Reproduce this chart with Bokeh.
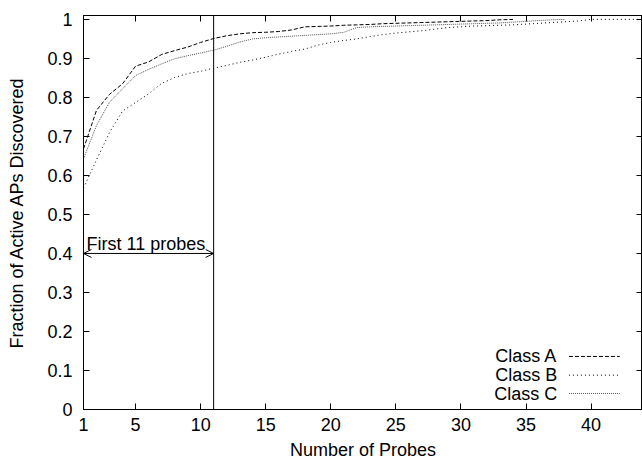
from bokeh.plotting import figure
from bokeh.models import (LinearAxis, FixedTicker, CustomJSTickFormatter, Span,
                          Arrow, OpenHead, Label, Range1d, CustomLabelingPolicy)
from bokeh.embed import file_html
from bokeh.resources import INLINE

# ---------------- data ----------------
probes_a = list(range(1, 35))
class_a = [0.668, 0.767, 0.808, 0.835, 0.880, 0.891, 0.910, 0.920, 0.929, 0.941,
           0.951, 0.958, 0.963, 0.966, 0.967, 0.969, 0.973, 0.981, 0.982, 0.983,
           0.985, 0.986, 0.987, 0.989, 0.990, 0.991, 0.992, 0.993, 0.994, 0.995,
           0.996, 0.997, 0.999, 1.000]

probes_b = list(range(1, 45))
class_b = [0.568, 0.640, 0.710, 0.765, 0.787, 0.809, 0.836, 0.851, 0.861, 0.867,
           0.875, 0.882, 0.890, 0.896, 0.903, 0.911, 0.918, 0.924, 0.934, 0.941,
           0.946, 0.950, 0.956, 0.961, 0.965, 0.968, 0.971, 0.975, 0.979, 0.981,
           0.983, 0.984, 0.985, 0.986, 0.988, 0.990, 0.992, 0.994, 0.996, 1.000,
           1.000, 1.000, 1.000, 1.000]

probes_c = list(range(1, 39))
class_c = [0.643, 0.728, 0.788, 0.822, 0.856, 0.872, 0.886, 0.899, 0.907, 0.914,
           0.921, 0.931, 0.942, 0.950, 0.953, 0.955, 0.957, 0.959, 0.961, 0.963,
           0.967, 0.979, 0.981, 0.982, 0.983, 0.984, 0.985, 0.986, 0.987, 0.988,
           0.989, 0.990, 0.991, 0.993, 0.995, 0.997, 0.999, 1.000]

series_names = ["Class A", "Class B", "Class C"]
x_ticks = [1, 5, 10, 15, 20, 25, 30, 35, 40]
y_ticks = [0, 0.1, 0.2, 0.3, 0.4, 0.5, 0.6, 0.7, 0.8, 0.9, 1.0]
x_label = "Number of Probes"
y_label = "Fraction of Active APs Discovered"
marker_probe = 11
marker_level = 0.4
marker_text = "First 11 probes"

# ---------------- style ----------------
FONT = "Liberation Sans"
FS = "18px"
dashes = ["4 2", "1 3", "1 1"]
colors = ["black", "black", "#555555"]

p = figure(width=642, height=464,
           x_range=Range1d(1, 43.95), y_range=Range1d(0, 1.01),
           output_backend="svg", toolbar_location=None,
           min_border_left=83, min_border_right=0,
           min_border_top=15, min_border_bottom=55)
p.background_fill_color = "white"
p.border_fill_color = "white"
p.grid.visible = False
p.outline_line_color = "black"
p.outline_line_width = 1


def style_axis(ax, ticks):
    ax.ticker = FixedTicker(ticks=ticks)
    ax.axis_line_color = "black"
    ax.major_tick_line_color = "black"
    ax.major_tick_in = 6
    ax.major_tick_out = 0
    ax.minor_tick_in = 0
    ax.minor_tick_out = 0
    ax.major_label_text_font = FONT
    ax.major_label_text_font_size = FS
    ax.major_label_text_color = "black"
    ax.axis_label_text_font = FONT
    ax.axis_label_text_font_size = FS
    ax.axis_label_text_font_style = "normal"
    ax.axis_label_text_color = "black"


xa = p.xaxis[0]
style_axis(xa, x_ticks)
xa.axis_label = x_label
xa.major_label_standoff = 8
xa.axis_label_standoff = 6

ya = p.yaxis[0]
style_axis(ya, y_ticks)
ya.axis_label = y_label
ya.formatter = CustomJSTickFormatter(code="return String(Math.round(tick*10)/10);")
ya.major_label_standoff = 11
ya.axis_label_standoff = 17

# mirrored tick marks (gnuplot style) on top and right, no labels drawn
no_labels = CustomLabelingPolicy(code="""
    for (const i of indices) { indices.unset(i) }
    return indices
""")

top = LinearAxis()
style_axis(top, x_ticks)
top.major_label_policy = no_labels
top.major_label_text_font_size = "0px"
top.major_label_standoff = 0
p.add_layout(top, "above")

right = LinearAxis()
style_axis(right, y_ticks)
right.major_label_policy = no_labels
right.major_label_text_font_size = "0px"
right.major_label_standoff = 0
p.add_layout(right, "right")

# ---------------- series ----------------
for xs, ys, d, c in [(probes_a, class_a, dashes[0], colors[0]),
                     (probes_b, class_b, dashes[1], colors[1]),
                     (probes_c, class_c, dashes[2], colors[2])]:
    p.line(xs, ys, line_color=c, line_width=1, line_dash=d)

# ---------------- annotation ----------------
p.add_layout(Span(location=marker_probe, dimension="height",
                  line_color="black", line_width=1))
p.add_layout(Arrow(start=OpenHead(size=8, line_width=1, line_color="black"),
                   end=OpenHead(size=8, line_width=1, line_color="black"),
                   x_start=1, y_start=marker_level,
                   x_end=marker_probe, y_end=marker_level,
                   line_color="black", line_width=1))
p.add_layout(Label(x=1, y=marker_level, text=marker_text,
                   x_offset=3, y_offset=9, text_baseline="alphabetic",
                   text_font=FONT, text_font_size=FS, text_color="black"))

# ---------------- legend (text left, sample right) ----------------
leg_text_x = 37.4
leg_x0, leg_x1 = 38.3, 42.2
leg_rows = [0.136, 0.088, 0.041]
for name, yrow, d, c in zip(series_names, leg_rows, dashes, colors):
    p.add_layout(Label(x=leg_text_x, y=yrow, text=name, text_align="right",
                       text_baseline="middle", text_font=FONT,
                       text_font_size=FS, text_color="black"))
    p.segment(x0=[leg_x0], y0=[yrow], x1=[leg_x1], y1=[yrow],
              line_color=c, line_width=1, line_dash=d)

open("out.html", "w").write(file_html(p, INLINE))
